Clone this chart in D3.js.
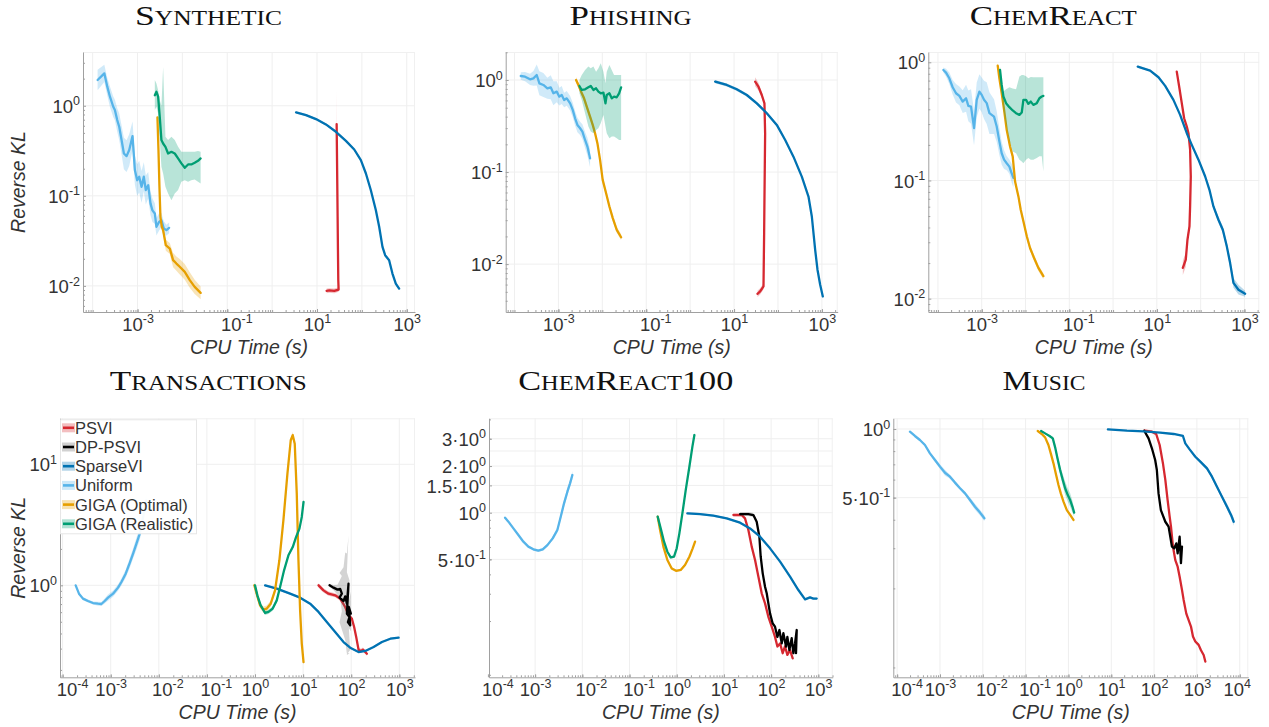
<!DOCTYPE html>
<html><head><meta charset="utf-8">
<script src="https://cdn.jsdelivr.net/npm/d3@7"></script>
<style>body{margin:0;background:#fff}svg{display:block}</style>
</head><body>
<svg id="chart" width="1269" height="727"></svg>
<script>
// ================= DATA =================
// ---- Synthetic ----
const synUniformX = [1.29e-4,1.82e-4,2.12e-4,2.43e-4,2.88e-4,3.13e-4,3.53e-4,3.91e-4,4.41e-4,4.97e-4,5.70e-4,6.53e-4,7.74e-4,8.73e-4,9.83e-4,1.09e-3,1.23e-3,1.38e-3,1.53e-3,1.73e-3,1.95e-3,2.15e-3,2.43e-3,2.64e-3,3.03e-3,3.41e-3,3.85e-3,4.41e-3,5.06e-3];
const synUniformY = [1.93,2.29,1.63,1.26,0.975,0.895,0.693,0.585,0.416,0.295,0.276,0.322,0.46,0.193,0.149,0.163,0.126,0.163,0.116,0.131,0.082,0.069,0.0637,0.0453,0.0514,0.0537,0.0434,0.0416,0.0441];
const synUniformBand = [1.3,1.25,1.25,1.3,1.3,1.3,1.35,1.4,1.45,1.5,1.5,1.5,1.45,1.45,1.5,1.5,1.5,1.45,1.45,1.4,1.35,1.35,1.3,1.25,1.25,1.2,1.2,1.15,1.15];
const synRealX = [2.43e-3,2.64e-3,2.88e-3,3.13e-3,3.41e-3,3.72e-3,4.19e-3,4.80e-3,5.70e-3,6.76e-3,8.02e-3,9.51e-3,1.13e-2,1.34e-2,1.58e-2,1.88e-2,2.23e-2,2.55e-2];
const synRealY = [1.31,1.43,1.26,0.755,0.416,0.381,0.35,0.295,0.308,0.295,0.26,0.229,0.205,0.223,0.223,0.233,0.245,0.26];
const synRealHi = [1.93,1.77,1.49,1.16,1.0,2.7,0.453,0.416,0.453,0.416,0.35,0.308,0.308,0.308,0.308,0.308,0.315,0.308];
const synRealLo = [0.895,0.975,0.822,0.416,0.21,0.177,0.126,0.106,0.0895,0.106,0.116,0.143,0.149,0.143,0.149,0.152,0.143,0.137];
const synOptX = [2.78e-3,2.93e-3,3.08e-3,3.24e-3,3.47e-3,3.72e-3,4.27e-3,5.24e-3,6.21e-3,7.36e-3,8.73e-3,1.13e-2,1.46e-2,1.88e-2,2.55e-2];
const synOptY = [0.742,0.322,0.126,0.0585,0.0453,0.0416,0.0283,0.026,0.0193,0.0177,0.0163,0.0143,0.0116,0.00975,0.00836];
const synOptBand = [1.05,1.05,1.05,1.08,1.1,1.12,1.15,1.15,1.2,1.2,1.22,1.22,1.22,1.2,1.18];
const synSparseX = [3.41,5.70,9.5,15.8,26.4,44.1,67.6,95,123,158,205,243,288,330,405,480,570,676];
const synSparseY = [0.843,0.787,0.711,0.621,0.514,0.408,0.327,0.249,0.177,0.116,0.0693,0.0453,0.0271,0.0219,0.0193,0.0137,0.0106,0.00934];
const synPsviX = [27.4,27.8,28.3,28.8,29.3,29.8,30.3,24.3,18.8,16.4];
const synPsviY = [0.626,0.322,0.137,0.0585,0.0249,0.0116,0.0091,0.0088,0.0089,0.0088];
const synPsviBand = [2.4,1.3,1.1,1.08,1.06,1.06,1.06,1.06,1.06,1.06];

// ---- Phishing ----
const phiUniformX = [1.39e-4,1.74e-4,2.26e-4,2.70e-4,3.21e-4,3.69e-4,4.55e-4,5.61e-4,6.68e-4,7.69e-4,9.16e-4,1.05e-3,1.19e-3,1.35e-3,1.55e-3,1.85e-3,2.12e-3,2.40e-3,2.71e-3,3.12e-3,3.52e-3,4.05e-3,4.58e-3,5.26e-3];
const phiUniformY = [1.105,1.087,1.017,1.042,1.133,0.92,0.883,0.812,0.832,0.717,0.747,0.659,0.687,0.607,0.632,0.558,0.473,0.384,0.325,0.299,0.275,0.223,0.189,0.141];
const phiUniformBand = [1.1,1.12,1.15,1.2,1.3,1.35,1.35,1.3,1.35,1.35,1.3,1.25,1.25,1.2,1.2,1.2,1.2,1.2,1.2,1.18,1.2,1.22,1.25,1.25];
const phiRealX = [3.01e-3,3.40e-3,4.05e-3,4.82e-3,5.45e-3,6.27e-3,7.21e-3,8.15e-3,9.21e-3,1.06e-2,1.18e-2,1.26e-2,1.45e-2,1.64e-2,1.85e-2,2.13e-2,2.41e-2,2.68e-2];
const phiRealY = [0.861,0.779,0.792,0.832,0.861,0.779,0.812,0.747,0.717,0.729,0.558,0.687,0.717,0.632,0.659,0.649,0.717,0.832];
const phiRealHi = [1.0,1.13,1.28,1.40,1.34,1.40,1.23,1.34,1.52,1.23,0.92,1.23,1.455,1.28,1.13,1.13,1.13,1.13];
const phiRealLo = [0.717,0.607,0.435,0.312,0.275,0.264,0.287,0.299,0.339,0.417,0.312,0.264,0.233,0.243,0.243,0.233,0.223,0.223];
const phiOptX = [2.52e-3,2.86e-3,3.28e-3,3.84e-3,4.42e-3,5.26e-3,6.05e-3,6.84e-3,7.73e-3,8.89e-3,1.02e-2,1.22e-2,1.45e-2,1.73e-2,2.13e-2,2.68e-2];
const phiOptY = [1.0,0.883,0.747,0.632,0.514,0.4,0.325,0.264,0.206,0.1355,0.0822,0.0589,0.0422,0.0316,0.0236,0.0196];
const phiSparseX = [3.71,6.83,11.5,19.5,33,55.7,94,146,225,349,495,590,703,794,914,1050];
const phiSparseY = [0.959,0.883,0.792,0.687,0.558,0.435,0.325,0.223,0.147,0.0893,0.0542,0.0329,0.0143,0.0087,0.00597,0.00446];
const phiPsviX = [30.2,35.9,42.8,49.2,51,50.1,49.2,48.4,46.8,39.3,34.1];
const phiPsviY = [0.959,0.847,0.687,0.558,0.264,0.115,0.0499,0.0217,0.00573,0.00505,0.00476];
const phiPsviBand = [1.12,1.1,1.08,1.06,1.05,1.05,1.05,1.05,1.08,1.08,1.08];

// ---- ChemReact ----
const chmUniformX = [1.33e-4,1.53e-4,1.82e-4,2.17e-4,2.59e-4,3.09e-4,3.68e-4,4.39e-4,4.95e-4,5.70e-4,6.68e-4,7.69e-4,8.85e-4,1e-3,1.13e-3,1.30e-3,1.50e-3,1.69e-3,1.91e-3,2.20e-3,2.53e-3,2.86e-3,3.24e-3,3.72e-3,4.28e-3,4.84e-3,5.29e-3];
const chmUniformY = [0.861,0.818,0.732,0.615,0.547,0.519,0.465,0.496,0.428,0.422,0.277,0.481,0.565,0.53,0.481,0.451,0.371,0.359,0.347,0.286,0.214,0.170,0.15,0.14,0.131,0.115,0.105];
const chmUniformBand = [1.05,1.08,1.12,1.15,1.2,1.2,1.25,1.3,1.35,1.4,1.4,1.4,1.4,1.4,1.45,1.5,1.5,1.45,1.4,1.35,1.3,1.25,1.2,1.15,1.15,1.2,1.2];
const chmRealX = [2.62e-3,2.86e-3,3.13e-3,3.60e-3,4.28e-3,5.10e-3,6.08e-3,7.26e-3,8.21e-3,8.95e-3,1.03e-2,1.16e-2,1.32e-2,1.51e-2,1.81e-2,2.08e-2,2.35e-2,2.56e-2];
const chmRealY = [0.861,0.643,0.513,0.451,0.417,0.391,0.371,0.359,0.376,0.481,0.481,0.445,0.465,0.436,0.451,0.496,0.513,0.519];
const chmRealHi = [0.919,0.70,0.565,0.591,0.615,0.6,0.59,0.757,0.782,0.782,0.76,0.732,0.75,0.747,0.747,0.747,0.747,0.747];
const chmRealLo = [0.709,0.55,0.396,0.30,0.22,0.176,0.17,0.15,0.145,0.14,0.15,0.155,0.15,0.15,0.155,0.16,0.16,0.119];
const chmOptX = [2.32e-3,2.53e-3,2.86e-3,3.24e-3,3.72e-3,4.44e-3,5.10e-3,5.78e-3,6.89e-3,7.78e-3,8.95e-3,1.07e-2,1.27e-2,1.57e-2,1.97e-2,2.56e-2];
const chmOptY = [0.937,0.732,0.547,0.396,0.268,0.194,0.16,0.098,0.0733,0.0565,0.0451,0.0337,0.0268,0.0221,0.0182,0.0155];
const chmSparseX = [3.66,7.02,10.9,15.5,23.9,34,48.3,62.8,89.2,127,159,196,255,321,396,472,562,731,1038];
const chmSparseY = [0.919,0.851,0.747,0.631,0.481,0.359,0.251,0.2,0.15,0.108,0.0834,0.0603,0.0465,0.0383,0.0277,0.02,0.0136,0.0119,0.011];
const chmSparseBand = [1.02,1.02,1.02,1.02,1.02,1.02,1.03,1.03,1.03,1.04,1.04,1.05,1.06,1.07,1.08,1.1,1.1,1.1,1.06];
const chmPsviX = [28.5,32.8,37.1,42,48.3,52.7,57.5,59.6,57.5,55.6,50,45.8,39.2];
const chmPsviY = [0.834,0.603,0.451,0.336,0.286,0.251,0.182,0.108,0.0603,0.0409,0.0315,0.0214,0.0182];
const chmPsviBand = [1.03,1.03,1.03,1.03,1.03,1.03,1.03,1.03,1.05,1.08,1.1,1.15,1.15];

// ---- Transactions ----
const trnUniformX = [1.87e-4,2.19e-4,2.65e-4,3.37e-4,4.29e-4,5.45e-4,6.40e-4,7.50e-4,8.80e-4,1.12e-3,1.42e-3,1.67e-3,2.05e-3,2.49e-3,2.92e-3,3.43e-3,4.02e-3,4.72e-3,5.53e-3];
const trnUniformY = [1.0,0.853,0.776,0.742,0.714,0.705,0.701,0.742,0.791,0.853,0.957,1.065,1.248,1.53,1.83,2.21,2.67,3.67,5.04];
const trnUniformBand = [1.02,1.02,1.03,1.03,1.03,1.04,1.04,1.05,1.06,1.06,1.06,1.07,1.08,1.1,1.1,1.12,1.12,1.15,1.15];
const trnOptX = [0.968,1.08,1.27,1.49,1.75,2.12,2.61,3.21,3.89,4.72,5.53,6.09,6.70,7.38,8.0,8.66,9.38,10.2];
const trnOptY = [1.0,0.853,0.684,0.63,0.642,0.705,0.909,1.61,3.44,8.37,15.8,17.4,14.8,5.72,1.61,0.621,0.33,0.232];
const trnRealX = [1.0,1.12,1.31,1.62,1.90,2.33,2.83,3.32,4.02,4.95,6.09,7.15,8.39,9.38,10.2];
const trnRealY = [1.0,0.827,0.684,0.591,0.603,0.642,0.751,0.969,1.33,1.77,2.07,2.51,2.94,3.67,4.88];
const trnSparseX = [1.62,2.83,5.36,8.66,14.0,20.9,31.1,46.4,69.2,95.3,142,196,292,435,650,968];
const trnSparseY = [1.0,0.939,0.853,0.791,0.705,0.603,0.497,0.411,0.34,0.305,0.281,0.287,0.309,0.34,0.362,0.369];
const trnPsviX = [20.9,26.5,33.7,46.4,59,75,87.9,103,115,127,142,159,175,196,212];
const trnPsviY = [1.0,0.909,0.853,0.827,0.776,0.662,0.565,0.531,0.453,0.374,0.294,0.287,0.294,0.281,0.272];
const trnDpX = [35.4,42.9,51.9,59,63.9,57.1,69.2,75,81.3,87.9,81.3,92.3,85.3,95.3,89.3,98.4];
const trnDpY = [1.0,0.957,0.921,0.933,0.853,0.791,0.742,0.811,0.705,1.032,0.583,0.548,0.497,0.467,0.662,0.583];
const trnDpBand = [1.03,1.05,1.1,1.2,1.4,1.6,1.9,2.3,2.6,2.5,2.2,2.0,1.8,1.6,1.5,1.4];

// ---- ChemReact100 ----
const c100UniformX = [2.31e-4,2.72e-4,3.47e-4,4.42e-4,5.64e-4,7.19e-4,9.18e-4,1.17e-3,1.45e-3,1.82e-3,2.36e-3,2.96e-3,3.49e-3,4.10e-3,4.83e-3,5.50e-3,6.16e-3];
const c100UniformY = [0.928,0.875,0.792,0.718,0.65,0.604,0.58,0.569,0.58,0.618,0.683,0.773,0.942,1.149,1.366,1.546,1.75];
const c100UniformBand = [1.01,1.01,1.01,1.01,1.01,1.01,1.02,1.02,1.02,1.02,1.03,1.04,1.05,1.06,1.06,1.05,1.06];
const c100RealX = [0.396,0.458,0.539,0.634,0.746,0.878,1,1.139,1.319,1.552,1.855,2.15,2.37];
const c100RealY = [0.942,0.792,0.65,0.56,0.515,0.52,0.589,0.736,0.99,1.4,1.98,2.67,3.17];
const c100OptX = [0.396,0.444,0.522,0.634,0.784,0.968,1.216,1.50,1.855,2.18,2.45];
const c100OptY = [0.942,0.773,0.604,0.495,0.437,0.422,0.427,0.46,0.52,0.589,0.65];
const c100SparseX = [1.68,3.12,5.98,11.5,22,35.8,58.3,94.9,155,252,378,524,668,786,925];
const c100SparseY = [0.99,0.98,0.956,0.919,0.862,0.792,0.70,0.589,0.483,0.387,0.317,0.276,0.284,0.279,0.279];
const c100PsviX = [15.9,23.8,28,33,38.8,45.7,53.7,63.2,74.4,87.5,103,121,136,155,176,197,221,252,287];
const c100PsviY = [0.966,0.966,0.919,0.773,0.604,0.495,0.387,0.302,0.26,0.213,0.184,0.158,0.137,0.1435,0.124,0.137,0.121,0.13,0.115];
const c100DpX = [22,33,42.1,49.5,56.4,60.2,66.4,74.4,80.7,87.5,94.9,108,121,136,150,168,182,207,221,244,273,296,321,349,337];
const c100DpY = [0.98,0.98,0.966,0.875,0.70,0.52,0.406,0.333,0.302,0.26,0.224,0.193,0.184,0.158,0.175,0.1435,0.167,0.137,0.158,0.13,0.155,0.124,0.1435,0.175,0.124];

// ---- Music ----
const musUniformX = [1.99e-4,2.60e-4,3.40e-4,4.46e-4,5.83e-4,7.64e-4,1e-3,1.31e-3,1.71e-3,2.24e-3,2.94e-3,3.85e-3,5.03e-3,6.58e-3,8.61e-3,1.09e-2];
const musUniformY = [0.973,0.932,0.895,0.851,0.782,0.731,0.684,0.643,0.618,0.582,0.55,0.522,0.488,0.456,0.43,0.406];
const musUniformBand = [1.005,1.01,1.01,1.015,1.015,1.02,1.025,1.03,1.02,1.02,1.015,1.02,1.025,1.03,1.03,1.03];
const musOptX = [0.192,0.238,0.285,0.341,0.387,0.447,0.516,0.585,0.663,0.766,0.917,1.097,1.31];
const musOptY = [0.98,0.951,0.919,0.851,0.782,0.707,0.628,0.568,0.522,0.48,0.441,0.42,0.399];
const musRealX = [0.23,0.285,0.361,0.431,0.489,0.554,0.639,0.738,0.837,0.966,1.097,1.243,1.36];
const musRealY = [0.98,0.957,0.932,0.91,0.831,0.744,0.661,0.598,0.55,0.513,0.488,0.456,0.43];
const musRealBand = [1.005,1.01,1.01,1.02,1.03,1.04,1.05,1.06,1.07,1.07,1.07,1.06,1.04];
const musSparseX = [8.34,23.2,56.8,139,286,472,535,676,918,1202,1720,2250,2940,3850,5050,6260,7230];
const musSparseY = [0.997,0.983,0.977,0.964,0.951,0.932,0.865,0.814,0.756,0.719,0.672,0.618,0.558,0.505,0.456,0.42,0.392];
const musSparseBand = [1.005,1.005,1.005,1.005,1.005,1.01,1.01,1.01,1.015,1.015,1.02,1.02,1.02,1.02,1.03,1.03,1.04];
const musPsviX = [58.9,88.9,112,135,161,183,207,231,248,276,313,355,395,448,490,565,641,727,809,918,1097,1245,1437,1572];
const musPsviY = [0.983,0.973,0.951,0.851,0.707,0.598,0.488,0.413,0.373,0.305,0.266,0.249,0.225,0.197,0.178,0.155,0.145,0.136,0.123,0.117,0.113,0.107,0.102,0.0955];
const musDpX = [58.9,74.3,88.9,106,116,127,144,183,218,239,261,296,330,355,395,424,448];
const musDpY = [0.983,0.91,0.823,0.731,0.661,0.522,0.441,0.392,0.373,0.337,0.305,0.30,0.315,0.285,0.337,0.258,0.305];

// ---- tick values ----
const xTicksTop = [1e-3,1e-1,1e1,1e3];
const xTicksBottom = [1e-4,1e-3,1e-2,1e-1,1e0,1e1,1e2,1e3];
const xTicksMusic = [1e-4,1e-3,1e-2,1e-1,1e0,1e1,1e2,1e3,1e4];
const yTicksTop = [1,0.1,0.01];
const yTicksTrans = [10,1];
const yTicksChem100 = [3,2,1.5,1,0.5];
const yGridChem100 = [3,2.5,2,1.5,1,0.5];
const yTicksMusic = [1,0.5];

// ---- legend ----
const seriesNames = ['PSVI','DP-PSVI','SparseVI','Uniform','GIGA (Optimal)','GIGA (Realistic)'];
const seriesKeys = ['psvi','dp','sparse','uniform','opt','real'];
const seriesColors = ['#d62830','#000000','#0072b2','#56b4e9','#e69f00','#009e73'];
const bandColors = ['#d62830','#666666','#0072b2','#56b4e9','#e69f00','#009e73'];

// label placement nudges (in px) observed in the original renderer, keyed by exponent
const xLabelNudge = {'-4':9.5,'-2':8.5,'-1':9,'4':-3};

// ================= BUILD =================
const COL = {}, BCOL = {};
seriesKeys.forEach((k,i)=>{COL[k]=seriesColors[i]; BCOL[k]=bandColors[i];});

function mk(key, xs, ys, band, lo, hi){
  return {key, pts: xs.map((xv,i)=>{
    const b = Array.isArray(band) ? band[i] : band;
    return {x:xv, y:ys[i], lo: lo ? lo[i] : ys[i]/b, hi: hi ? hi[i] : ys[i]*b};
  })};
}
const order = {psvi:0,dp:1,sparse:2,uniform:3,opt:4,real:5};

const panels = [
 {title:'Synthetic', tx:208.5, ty:25, tw:147, box:[83,52,415,312], xe:[-4.215,3.184], ye:[-2.29,0.597],
  xt:xTicksTop, yt:yTicksTop, yg:yTicksTop, xlabY:354, ylab:true,
  series:[mk('psvi',synPsviX,synPsviY,synPsviBand), mk('sparse',synSparseX,synSparseY,1.03),
          mk('uniform',synUniformX,synUniformY,synUniformBand), mk('opt',synOptX,synOptY,synOptBand),
          mk('real',synRealX,synRealY,1,synRealLo,synRealHi)]},
 {title:'Phishing', tx:630.5, ty:25, tw:122, box:[505.7,52,837.7,312], xe:[-4.2,3.36], ye:[-2.52,0.304],
  xt:xTicksTop, yt:yTicksTop, yg:yTicksTop, xlabY:354,
  series:[mk('psvi',phiPsviX,phiPsviY,phiPsviBand), mk('sparse',phiSparseX,phiSparseY,1.04),
          mk('uniform',phiUniformX,phiUniformY,phiUniformBand), mk('opt',phiOptX,phiOptY,1.08),
          mk('real',phiRealX,phiRealY,1,phiRealLo,phiRealHi)]},
 {title:'ChemReact', tx:1053.3, ty:25, tw:167, box:[928.3,52,1259.3,312], xe:[-4.22,3.34], ye:[-2.113,0.087],
  xt:xTicksTop, yt:yTicksTop, yg:yTicksTop, xlabY:354,
  series:[mk('psvi',chmPsviX,chmPsviY,chmPsviBand), mk('sparse',chmSparseX,chmSparseY,chmSparseBand),
          mk('uniform',chmUniformX,chmUniformY,chmUniformBand), mk('opt',chmOptX,chmOptY,1.06),
          mk('real',chmRealX,chmRealY,1,chmRealLo,chmRealHi)]},
 {title:'Transactions', tx:208.3, ty:390, tw:197, box:[60,418.3,415,677.3], xe:[-4.054,3.326], ye:[-0.76,1.38],
  xt:xTicksBottom, yt:yTicksTrans, yg:yTicksTrans, xlabY:719, ylab:true, legend:true,
  series:[mk('psvi',trnPsviX,trnPsviY,1.04), mk('dp',trnDpX,trnDpY,trnDpBand), mk('sparse',trnSparseX,trnSparseY,1.02),
          mk('uniform',trnUniformX,trnUniformY,trnUniformBand), mk('opt',trnOptX,trnOptY,1.06),
          mk('real',trnRealX,trnRealY,1.04)]},
 {title:'ChemReact100', tx:625.8, ty:390, tw:215, box:[489,418.3,832.7,677.3], xe:[-3.977,3.305], ye:[-1.062,0.609],
  xt:xTicksBottom, yt:yTicksChem100, yg:yGridChem100, xlabY:719,
  series:[mk('psvi',c100PsviX,c100PsviY,1.02), mk('dp',c100DpX,c100DpY,1.03), mk('sparse',c100SparseX,c100SparseY,1.015),
          mk('uniform',c100UniformX,c100UniformY,c100UniformBand), mk('opt',c100OptX,c100OptY,1.02),
          mk('real',c100RealX,c100RealY,1.02)]},
 {title:'Music', tx:1044, ty:390, tw:83, box:[893.3,418.3,1248.3,677.3], xe:[-4.09,4.2], ye:[-1.089,0.047],
  xt:xTicksMusic, yt:yTicksMusic, yg:yTicksMusic, xlabY:719,
  series:[mk('psvi',musPsviX,musPsviY,1.015), mk('dp',musDpX,musDpY,1.02), mk('sparse',musSparseX,musSparseY,musSparseBand),
          mk('uniform',musUniformX,musUniformY,musUniformBand), mk('opt',musOptX,musOptY,1.01),
          mk('real',musRealX,musRealY,musRealBand)]}
];

const FONT = "'Liberation Sans', Arial, Helvetica, sans-serif";
const TXT = '#333333';
const svg = d3.select('#chart');

function sciParts(v){
  const e = Math.floor(Math.log10(v) + 1e-9);
  const m = Math.round(v / Math.pow(10,e) * 100) / 100;
  return {mant: m === 1 ? '10' : (m + '\u00B710'), exp: String(e)};
}
function setSci(sel){
  sel.each(function(d){
    const t = d3.select(this);
    const p = sciParts(d);
    t.text(null);
    t.append('tspan').text(p.mant);
    t.append('tspan').attr('dy', -7.5).attr('font-size', 12.5).text(p.exp);
  });
}
function minorTicks(lo, hi){
  const out = [];
  for(let k = Math.floor(lo); k <= Math.ceil(hi); k++){
    for(let m = 2; m <= 9; m++){
      const v = m * Math.pow(10,k);
      if(Math.log10(v) > lo && Math.log10(v) < hi) out.push(v);
    }
  }
  return out;
}
function decades(lo, hi){
  const out = [];
  for(let k = Math.ceil(lo); k <= Math.floor(hi); k++) out.push(Math.pow(10,k));
  return out;
}

panels.forEach((P, pi)=>{
  const [x0,y0,x1,y1] = P.box;
  const w = x1-x0, h = y1-y0;
  const x = d3.scaleLog().domain([Math.pow(10,P.xe[0]), Math.pow(10,P.xe[1])]).range([0,w]);
  const y = d3.scaleLog().domain([Math.pow(10,P.ye[0]), Math.pow(10,P.ye[1])]).range([h,0]);
  const g = svg.append('g').attr('transform', `translate(${x0},${y0})`);

  // title
  svg.append('text').attr('x',P.tx).attr('y',P.ty).attr('text-anchor','middle')
    .attr('font-family',"'Liberation Serif','DejaVu Serif',serif").attr('font-size',28)
    .style('font-variant','small-caps').attr('fill','#111')
    .attr('textLength',P.tw).attr('lengthAdjust','spacingAndGlyphs').text(P.title);

  // grid
  const grid = g.append('g');
  grid.selectAll('line.gx').data(decades(P.xe[0],P.xe[1])).join('line')
    .attr('x1',d=>x(d)).attr('x2',d=>x(d)).attr('y1',0).attr('y2',h)
    .attr('stroke','#efefef').attr('stroke-width',1);
  grid.selectAll('line.gy').data(P.yg).join('line')
    .attr('x1',0).attr('x2',w).attr('y1',d=>y(d)).attr('y2',d=>y(d))
    .attr('stroke','#efefef').attr('stroke-width',1);
  g.append('line').attr('x1',0).attr('x2',w).attr('y1',0.5).attr('y2',0.5).attr('stroke','#f0f0f0');
  g.append('line').attr('x1',w-0.5).attr('x2',w-0.5).attr('y1',0).attr('y2',h).attr('stroke','#f0f0f0');

  // clip
  const cid = 'clip'+pi;
  g.append('clipPath').attr('id',cid).append('rect').attr('x',0).attr('y',0).attr('width',w).attr('height',h);
  const plot = g.append('g').attr('clip-path',`url(#${cid})`);

  const area = d3.area().x(d=>x(d.x)).y0(d=>y(d.lo)).y1(d=>y(d.hi));
  const line = d3.line().x(d=>x(d.x)).y(d=>y(d.y));
  P.series.slice().sort((a,b)=>order[a.key]-order[b.key]).forEach(s=>{
    plot.append('path').attr('d',area(s.pts)).attr('fill',BCOL[s.key]).attr('fill-opacity',0.28).attr('stroke','none');
    plot.append('path').attr('d',line(s.pts)).attr('fill','none').attr('stroke',COL[s.key])
      .attr('stroke-width',2.3).attr('stroke-linejoin','round').attr('stroke-linecap','round');
  });

  // x axis
  const gx = g.append('g').attr('transform',`translate(0,${h})`)
    .call(d3.axisBottom(x).tickValues(P.xt).tickSize(-3).tickSizeOuter(0));
  gx.select('.domain').attr('stroke','#a0a0a0');
  gx.selectAll('.tick line').attr('stroke','#a0a0a0');
  gx.selectAll('.tick text').attr('y',18.5).attr('dy',null).attr('font-size',18.5)
    .attr('font-family',FONT).attr('fill',TXT)
    .attr('x', d => xLabelNudge[sciParts(d).exp] || 0).call(setSci);
  const gxm = g.append('g').attr('transform',`translate(0,${h})`)
    .call(d3.axisBottom(x).tickValues(minorTicks(P.xe[0],P.xe[1]).concat(decades(P.xe[0],P.xe[1]))).tickSize(-2).tickFormat(''));
  gxm.select('.domain').remove();
  gxm.selectAll('.tick line').attr('stroke','#a0a0a0');

  // y axis
  const gy = g.append('g').call(d3.axisLeft(y).tickValues(P.yt).tickSize(-3).tickSizeOuter(0));
  gy.select('.domain').attr('stroke','#a0a0a0');
  gy.selectAll('.tick line').attr('stroke','#a0a0a0');
  gy.selectAll('.tick text').attr('x',-3).attr('dy','0.36em').attr('font-size',18.5)
    .attr('font-family',FONT).attr('fill',TXT).call(setSci);
  const gym = g.append('g')
    .call(d3.axisLeft(y).tickValues(minorTicks(P.ye[0],P.ye[1])).tickSize(-2).tickFormat(''));
  gym.select('.domain').remove();
  gym.selectAll('.tick line').attr('stroke','#a0a0a0');

  // axis labels
  svg.append('text').attr('x',x0+w/2).attr('y',P.xlabY).attr('text-anchor','middle')
    .attr('font-family',FONT).attr('font-size',19.5).attr('font-style','italic').attr('fill',TXT)
    .text('CPU Time (s)');
  if(P.ylab){
    svg.append('text').attr('transform',`translate(25,${y0+h/2}) rotate(-90)`).attr('text-anchor','middle')
      .attr('font-family',FONT).attr('font-size',19.5).attr('font-style','italic').attr('fill',TXT)
      .text('Reverse KL');
  }

  // legend
  if(P.legend){
    const lg = g.append('g');
    lg.append('rect').attr('x',0.5).attr('y',1.5).attr('width',136).attr('height',114)
      .attr('fill','#fff').attr('fill-opacity',0.95).attr('stroke','#e6e6e6');
    seriesNames.forEach((nm,i)=>{
      const cy = 9.5 + i*19.2;
      lg.append('rect').attr('x',2).attr('y',cy-4.5).attr('width',13).attr('height',9)
        .attr('fill',bandColors[i]).attr('fill-opacity',0.3);
      lg.append('line').attr('x1',3).attr('x2',14).attr('y1',cy).attr('y2',cy)
        .attr('stroke',seriesColors[i]).attr('stroke-width',2.6);
      lg.append('text').attr('x',15).attr('y',cy).attr('dy','0.36em')
        .attr('font-family',FONT).attr('font-size',16.5).attr('fill',TXT).text(nm);
    });
  }
});
</script>
</body></html>
